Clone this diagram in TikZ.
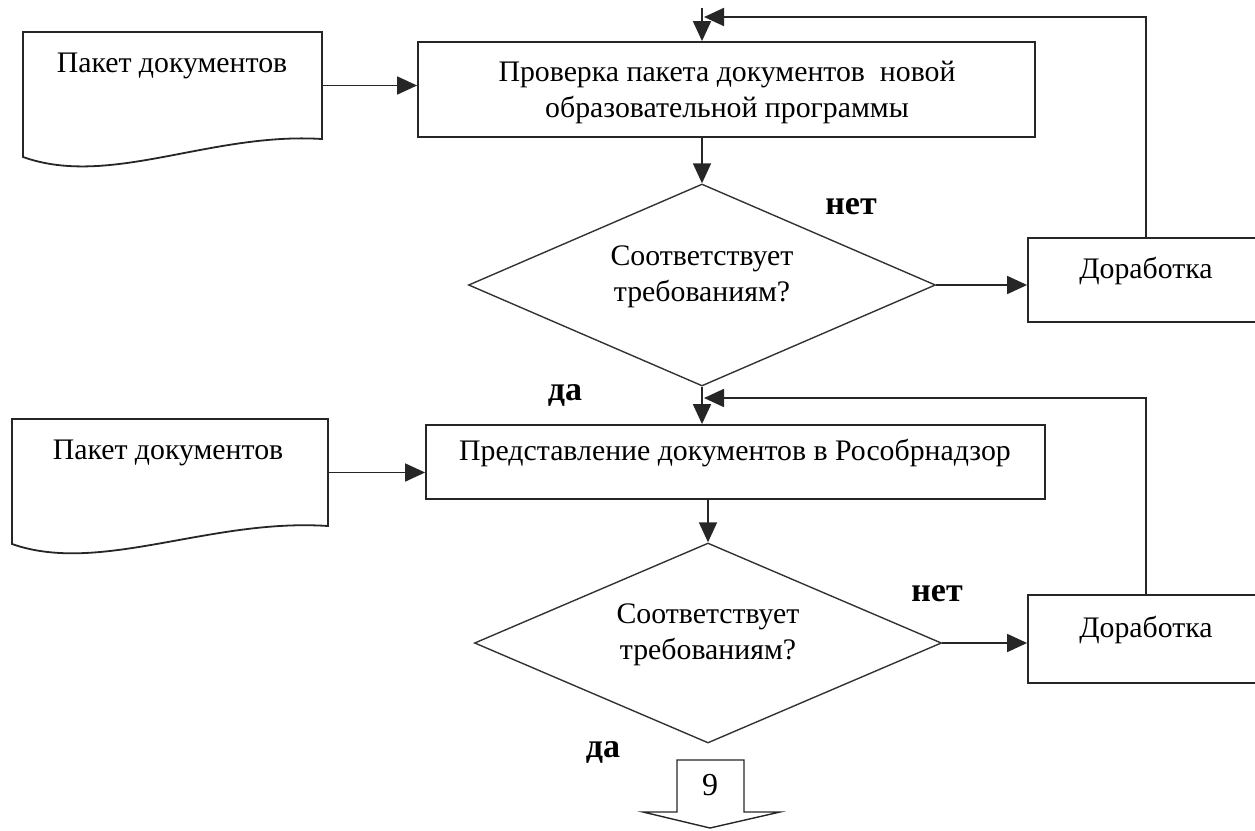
\documentclass[tikz,border=0pt]{standalone}
\usepackage{fontspec}
\setmainfont{Liberation Serif}
\usetikzlibrary{arrows.meta,shapes.geometric}
\begin{document}
\begin{tikzpicture}[x=1pt,y=-1pt,
  every node/.style={font=\fontsize{29.8}{36}\selectfont, inner sep=0pt},
  line/.style={line width=1.8pt, black!85},
  flow/.style={line, -{Triangle[length=20pt,width=18pt]}},
  procbox/.style={draw, line width=1.8pt, black!85, rectangle},
  decision/.style={draw, diamond, line width=1.4pt, black!80, aspect=2.31},
  answer/.style={font=\fontsize{34}{40}\selectfont\bfseries},
]
\useasboundingbox (0,0) rectangle (1255,830);

% ---- first stage ----
\node (doc1) [minimum width=299pt, minimum height=107pt] at (172.5,85.5) {};
\draw[line] (23,157) .. controls (110,188) and (210,132) .. (322,139)
  -- (322,32) -- (23,32) -- cycle;
\node (doc1t) at (172,66) {Пакет документов};

\node (chk) [procbox, minimum width=617pt, minimum height=95pt] at (726.5,89.5) {};
\node (chkt) [align=center] at (727,92) {Проверка пакета документов\ \ новой\\образовательной программы};

\node (dec1) [decision, minimum width=467pt, minimum height=202pt] at (702,285) {};
\node (dec1t) [align=center] at (702,277) {Соответствует\\требованиям?};

\node (rev1) [procbox, minimum width=236pt, minimum height=84pt] at (1146,280) {};
\node (rev1t) at (1146,271) {Доработка};

\node (no1) [answer] at (851,207) {нет};
\node (yes1) [answer] at (565,395) {да};

\coordinate (in0) at (702,8);
\coordinate (j1) at (704,17);
\draw[flow] (in0) -- (in0 |- chk.north);
\draw[flow] (rev1.north) |- (j1);
\draw[flow] (doc1.east) -- (doc1.east -| chk.west);
\draw[flow] (dec1.north |- chk.south) -- (dec1.north);
\draw[flow] (dec1.east) -- (dec1.east -| rev1.west);

% ---- second stage ----
\node (doc2) [minimum width=316pt, minimum height=107pt] at (170,472.5) {};
\draw[line] (12,544) .. controls (100,575) and (210,518) .. (328,526)
  -- (328,419) -- (12,419) -- cycle;
\node (doc2t) at (168,453) {Пакет документов};

\node (sub) [procbox, minimum width=619pt, minimum height=74pt] at (735.5,462) {};
\node (subt) at (735,453) {Представление документов в Рособрнадзор};

\node (dec2) [decision, minimum width=467pt, minimum height=200pt] at (708,643) {};
\node (dec2t) [align=center] at (708,635) {Соответствует\\требованиям?};

\node (rev2) [procbox, minimum width=236pt, minimum height=88pt] at (1146,639) {};
\node (rev2t) at (1146,630) {Доработка};

\node (no2) [answer] at (937,594) {нет};
\node (yes2) [answer] at (603,752) {да};

\coordinate (j2) at (704,398);
\draw[flow] (dec1.south) -- (dec1.south |- sub.north);
\draw[flow] (rev2.north) |- (j2);
\draw[flow] (doc2.east) -- (doc2.east -| sub.west);
\draw[flow] (dec2.north |- sub.south) -- (dec2.north);
\draw[flow] (dec2.east) -- (dec2.east -| rev2.west);

% ---- continuation to step 9 ----
\node (nine) [font=\fontsize{32}{36}\selectfont] at (710,785) {9};
\draw[line, line width=1.4pt] (677,812) -- (677,760) -- (744,760) -- (744,812)
  -- (780,812) -- (710,828) -- (643,812) -- cycle;
\end{tikzpicture}
\end{document}
